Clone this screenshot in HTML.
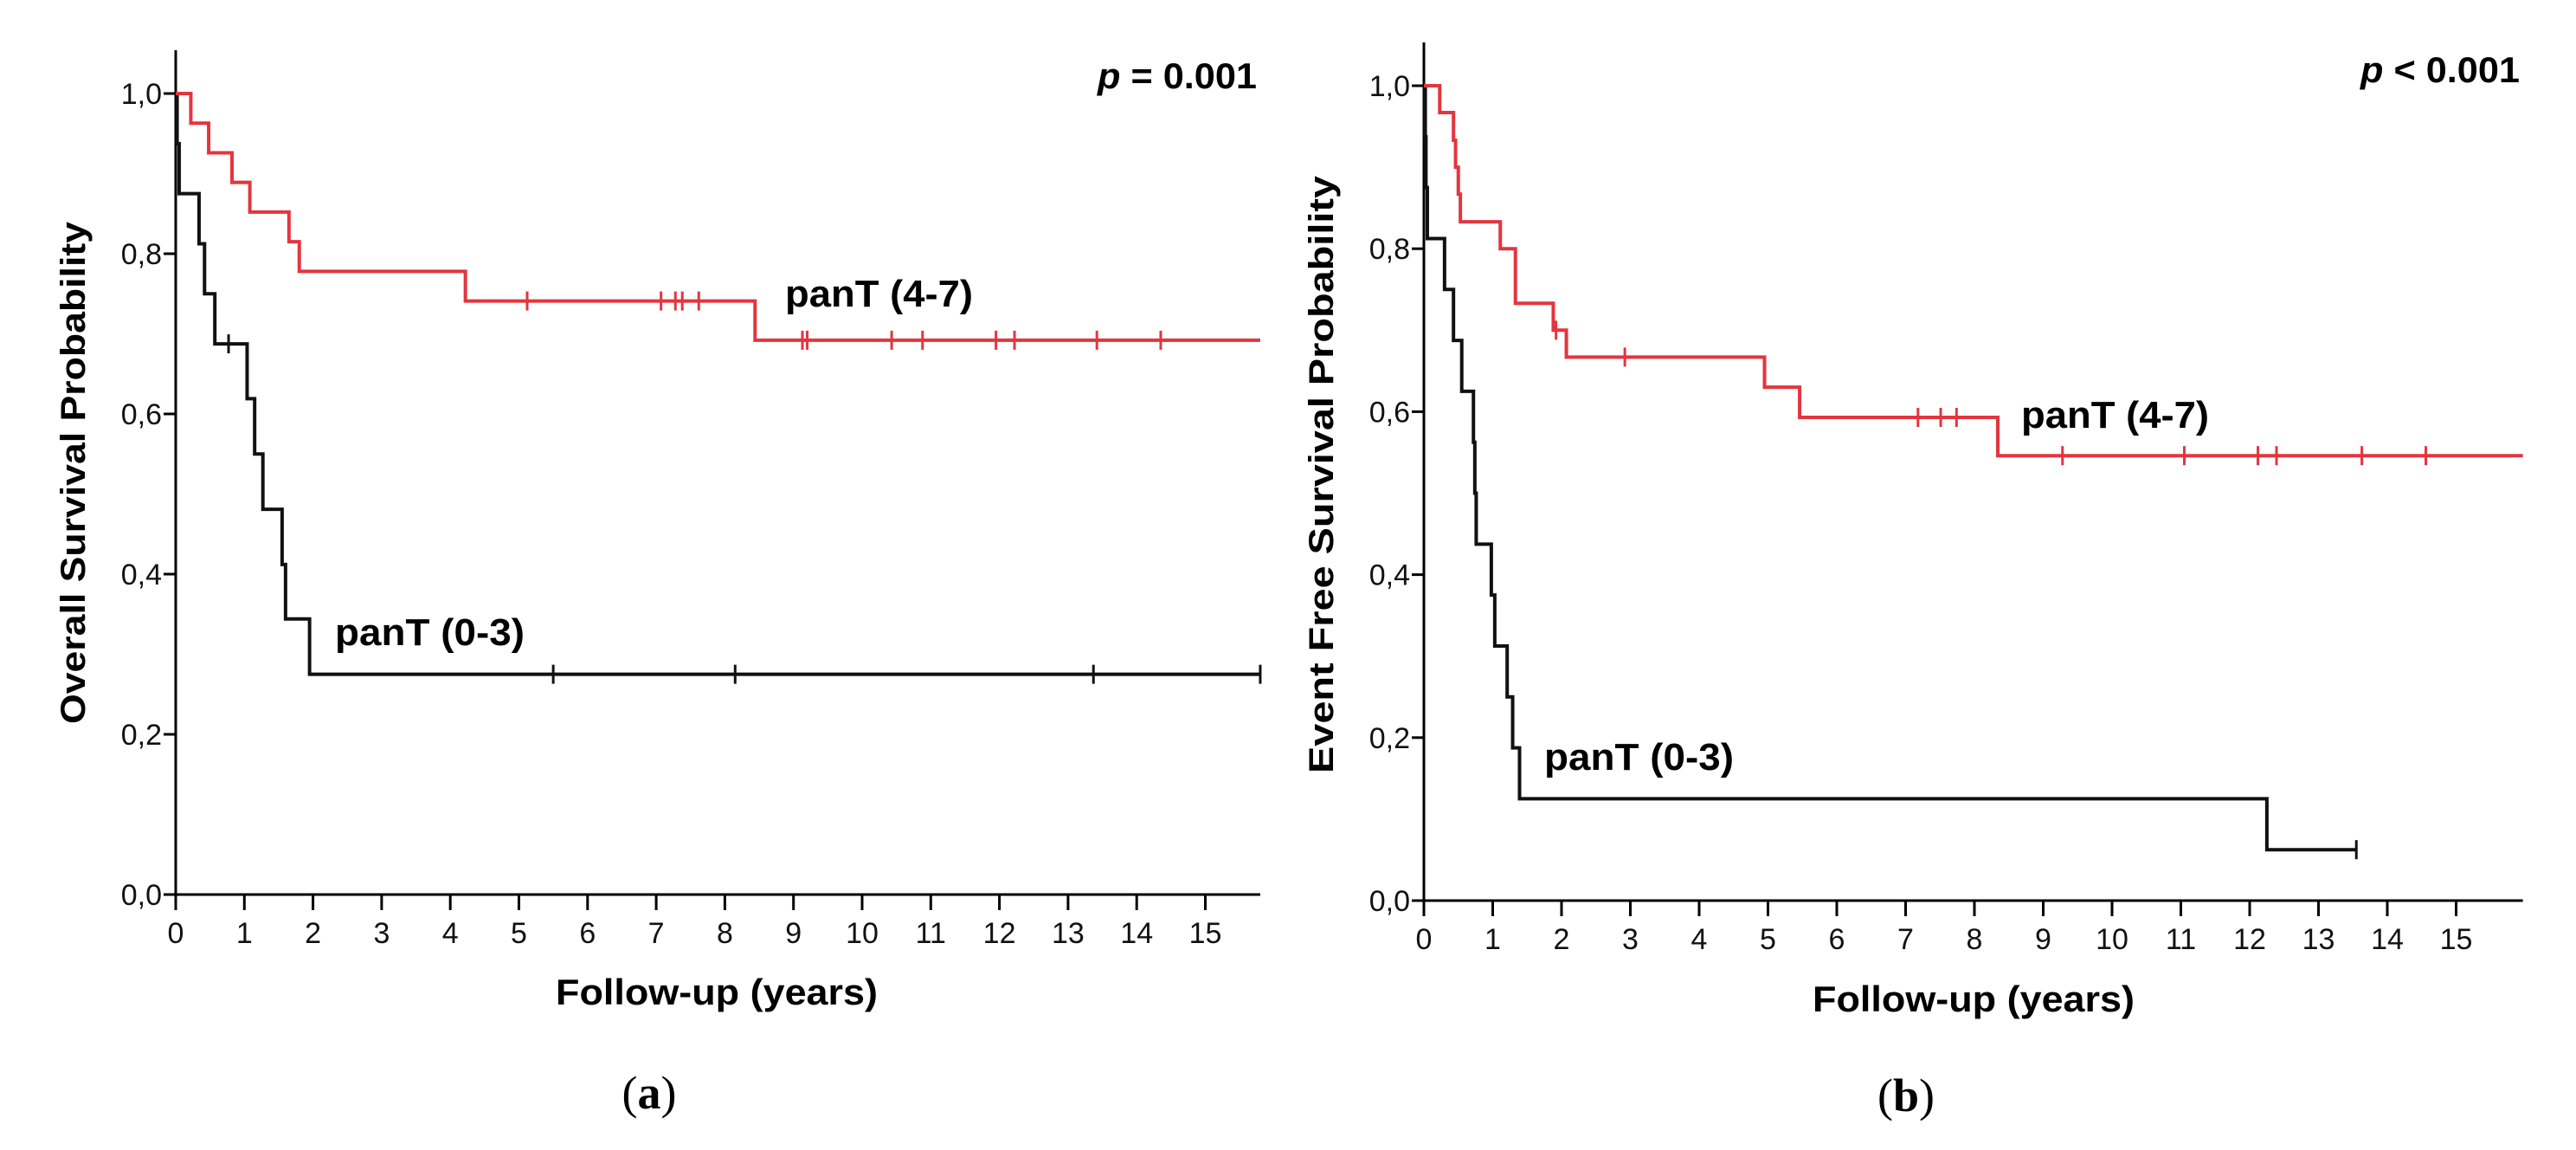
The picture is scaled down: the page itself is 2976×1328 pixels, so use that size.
<!DOCTYPE html>
<html><head><meta charset="utf-8"><style>
html,body{margin:0;padding:0;background:#fff;}
svg{display:block;}
text{font-family:"Liberation Sans",Arial,sans-serif;}
</style></head><body>
<svg id="fig" width="2976" height="1328" viewBox="0 0 2976 1328" xmlns="http://www.w3.org/2000/svg"></svg>
<script>
// ----- Panel (a) data: Overall survival -----
const aHighTimes = [0.22, 0.48, 0.82, 1.08, 1.65, 1.80, 4.22, 8.44];
const aHighSurv  = [0.963, 0.926, 0.889, 0.852, 0.815, 0.778, 0.741, 0.692];
const aHighCens  = [5.12, 7.07, 7.28, 7.38, 7.62, 9.13, 9.20, 10.43, 10.88, 11.95, 12.22, 13.42, 14.35];
const aLowTimes  = [0.02, 0.05, 0.34, 0.42, 0.57, 1.04, 1.15, 1.27, 1.55, 1.60, 1.95];
const aLowSurv   = [0.9375, 0.875, 0.8125, 0.75, 0.6875, 0.619, 0.550, 0.481, 0.412, 0.344, 0.275];
const aLowCens   = [0.77, 5.50, 8.15, 13.37, 15.8];
// ----- Panel (b) data: Event free survival -----
const bHighTimes = [0.23, 0.43, 0.46, 0.50, 0.53, 1.11, 1.33, 1.88, 2.07, 4.95, 5.46, 8.34];
const bHighSurv  = [0.967, 0.933, 0.900, 0.867, 0.833, 0.800, 0.733, 0.700, 0.667, 0.630, 0.593, 0.546];
const bHighCens  = [1.92, 2.92, 7.18, 7.51, 7.74, 9.28, 11.05, 12.12, 12.39, 13.63, 14.56];
const bLowTimes  = [0.02, 0.03, 0.05, 0.30, 0.43, 0.55, 0.72, 0.74, 0.76, 0.98, 1.03, 1.21, 1.29, 1.39, 12.25];
const bLowSurv   = [0.9375, 0.875, 0.8125, 0.75, 0.6875, 0.625, 0.5625, 0.5, 0.4375, 0.375, 0.3125, 0.25, 0.1875, 0.125, 0.0625];
const bLowCens   = [13.55];
const xTicks = [0,1,2,3,4,5,6,7,8,9,10,11,12,13,14,15];
const yTicks = [0,0.2,0.4,0.6,0.8,1.0];
const yTickLabels = ["0,0","0,2","0,4","0,6","0,8","1,0"];

const NS="http://www.w3.org/2000/svg";
const svg=document.getElementById('fig');
function mk(tag,attrs,parent){const e=document.createElementNS(NS,tag);for(const k in attrs)e.setAttribute(k,attrs[k]);(parent||svg).appendChild(e);return e;}

function panel(cfg){
  const g=mk('g',{});
  
  
  const X=t=>cfg.x0+t*cfg.px;
  const Y=v=>cfg.y0-v*(cfg.y0-cfg.y1);
  // axes
  const ya=mk('line',{x1:cfg.x0,y1:cfg.yTop,x2:cfg.x0,y2:cfg.y0,stroke:'#000','stroke-width':3},g);
  
  
  const xa=mk('line',{x1:cfg.x0-14,y1:cfg.y0,x2:X(cfg.xMax),y2:cfg.y0,stroke:'#000','stroke-width':3},g);
  
  
  yTicks.forEach((v,i)=>{
    mk('line',{x1:cfg.x0-14,y1:Y(v),x2:cfg.x0,y2:Y(v),stroke:'#000','stroke-width':3},g);
    const t=mk('text',{x:cfg.x0-16,y:Y(v)+12,'font-size':34,'text-anchor':'end',fill:'#111'},g);
    t.textContent=yTickLabels[i];
    
    
  });
  xTicks.forEach(v=>{
    mk('line',{x1:X(v),y1:cfg.y0,x2:X(v),y2:cfg.y0+18,stroke:'#000','stroke-width':3},g);
    const t=mk('text',{x:X(v),y:cfg.y0+56,'font-size':34,'text-anchor':'middle',fill:'#111'},g);
    t.textContent=String(v);
    
    
  });
  // curves
  function curve(times,surv,cens,end,color,name){
    let d='M'+X(0)+' '+Y(1);
    let cur=1;
    times.forEach((t,i)=>{d+=' H'+X(t)+' V'+Y(surv[i]);cur=surv[i];});
    d+=' H'+X(end);
    const p=mk('path',{d:d,fill:'none',stroke:color,'stroke-width':4},g);
    
    
    cens.forEach(c=>{
      let v=1;
      times.forEach((t,i)=>{if(t<=c)v=surv[i];});
      const m=mk('line',{x1:X(c),y1:Y(v)-11,x2:X(c),y2:Y(v)+11,stroke:color,'stroke-width':3},g);
      
      
    });
  }
  curve(cfg.lowT,cfg.lowS,cfg.lowC,cfg.lowEnd,'#111','curve-pant-0-3');
  curve(cfg.highT,cfg.highS,cfg.highC,cfg.xMax,'#e3353f','curve-pant-4-7');
  // labels
  const yt=mk('text',{transform:`translate(${cfg.ytX},${cfg.ytY}) rotate(-90)`,'font-size':40,'font-weight':'bold','text-anchor':'middle',textLength:cfg.ytLen,lengthAdjust:'spacingAndGlyphs'},g);
  yt.textContent=cfg.yTitle;
  
  
  const xt=mk('text',{x:cfg.xtX,y:cfg.xtY,'font-size':42,'font-weight':'bold','text-anchor':'middle',textLength:372,lengthAdjust:'spacingAndGlyphs'},g);
  xt.textContent='Follow-up (years)';
  
  
  const l1=mk('text',{x:cfg.hiLx,y:cfg.hiLy,'font-size':44,'font-weight':'bold',textLength:217,lengthAdjust:'spacingAndGlyphs'},g);
  l1.textContent='panT (4-7)';
  
  
  const l2=mk('text',{x:cfg.loLx,y:cfg.loLy,'font-size':44,'font-weight':'bold',textLength:219,lengthAdjust:'spacingAndGlyphs'},g);
  l2.textContent='panT (0-3)';
  
  
  const pv=mk('text',{x:cfg.pX,y:cfg.pY,'font-size':42,'font-weight':'bold',textLength:184,lengthAdjust:'spacingAndGlyphs'},g);
  pv.innerHTML='<tspan font-style="italic">p</tspan> '+cfg.pText;
  
  
  const cap=mk('text',{x:cfg.capX,y:cfg.capY,'font-size':54,'text-anchor':'middle',style:'font-family:"Liberation Serif",serif'},g);
  cap.innerHTML='(<tspan font-weight="bold">'+cfg.cap+'</tspan>)';
  
  
}

panel({name:'panel-a-overall-survival',x0:203,px:79.3,y0:1033,y1:108,yTop:58,xMax:15.8,
  highT:aHighTimes,highS:aHighSurv,highC:aHighCens,lowT:aLowTimes,lowS:aLowSurv,lowC:aLowCens,lowEnd:15.8,
  yTitle:'Overall Survival Probability',ytX:98,ytY:546,ytLen:580,xtX:828,xtY:1160,
  hiLx:907,hiLy:354,loLx:387,loLy:745,pX:1268,pY:102,pText:'= 0.001',cap:'a',capX:750,capY:1280});
panel({name:'panel-b-event-free-survival',x0:1645,px:79.5,y0:1040,y1:99,yTop:49,xMax:15.97,
  highT:bHighTimes,highS:bHighSurv,highC:bHighCens,lowT:bLowTimes,lowS:bLowSurv,lowC:bLowCens,lowEnd:13.55,
  yTitle:'Event Free Survival Probability',ytX:1540,ytY:548,ytLen:690,xtX:2280,xtY:1168,
  hiLx:2335,hiLy:494,loLx:1784,loLy:889,pX:2727,pY:95,pText:'< 0.001',cap:'b',capX:2202,capY:1283});
</script>
</body></html>
